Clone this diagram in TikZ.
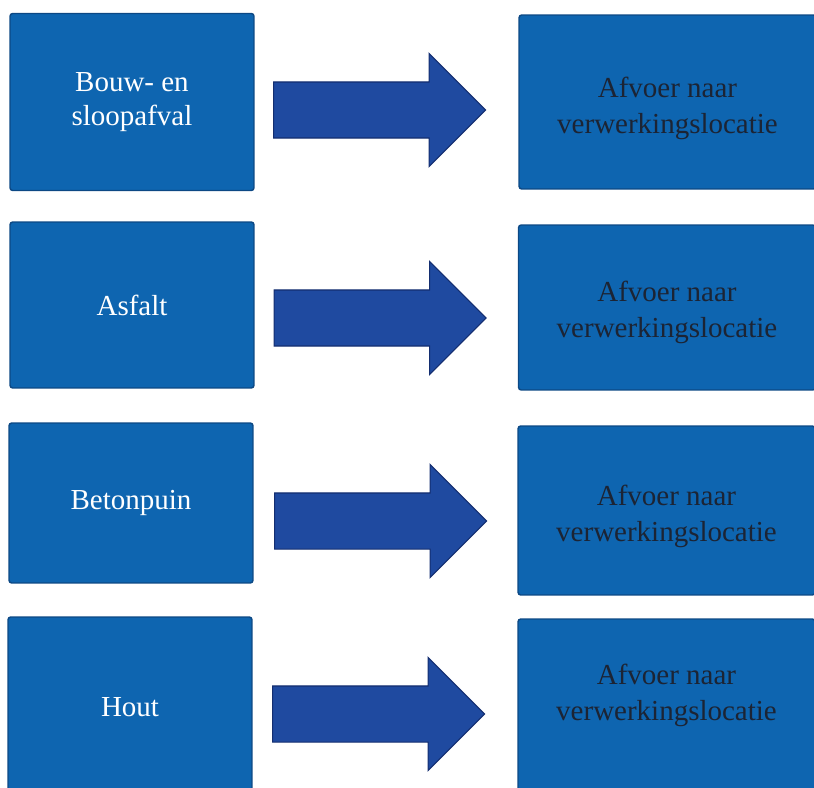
\documentclass[tikz,border=0pt]{standalone}
\usepackage{fontspec}
\setmainfont{Liberation Serif}
\usetikzlibrary{shapes.arrows, calc}

\definecolor{boxblue}{RGB}{14,101,176}
\definecolor{boxedge}{RGB}{12,72,132}
\definecolor{arrowblue}{RGB}{31,74,160}
\definecolor{arrowedge}{RGB}{20,46,112}
\definecolor{darktext}{RGB}{28,36,52}

\tikzset{
    srcbox/.style={rectangle, rounded corners=1.5pt, fill=boxblue, draw=boxedge, line width=0.8pt,
        minimum width=4.88cm, text=white, align=center, font=\fontsize{16.5}{19}\selectfont},
    dstbox/.style={rectangle, rounded corners=1.5pt, fill=boxblue, draw=boxedge, line width=0.8pt,
        minimum width=5.94cm},
    dsttext/.style={text=darktext, align=center, font=\fontsize{16.5}{20.5}\selectfont},
    blockarrow/.style={single arrow, fill=arrowblue, draw=arrowedge, line width=0.6pt,
        inner xsep=0pt, inner ysep=0.55cm, single arrow head extend=0.57cm,
        single arrow tip angle=90, minimum height=4.24cm, anchor=tip}
}

\begin{document}
\begin{tikzpicture}[x=0.02cm, y=-0.02cm]
    \useasboundingbox (0,0) rectangle (814,787);

    % Left column: waste streams
    \node[srcbox, minimum height=3.54cm] (l1) at (132,102) {Bouw- en\\sloopafval};
    \node[srcbox, minimum height=3.32cm] (l2) at (132,305) {Asfalt};
    \node[srcbox, minimum height=3.2cm] (l3) at (131,503) {Betonpuin};
    \node[srcbox, minimum height=3.6cm] (l4) at (130,707) {Hout};

    % Right column: destination
    \node[dstbox, minimum height=3.48cm,
        label={[dsttext, yshift=-0.12cm]center:Afvoer naar\\verwerkingslocatie}] (r1) at (667.5,102) {};
    \node[dstbox, minimum height=3.3cm,
        label={[dsttext, yshift=-0.1cm]center:Afvoer naar\\verwerkingslocatie}] (r2) at (667,307.5) {};
    \node[dstbox, minimum height=3.38cm,
        label={[dsttext, yshift=-0.12cm]center:Afvoer naar\\verwerkingslocatie}] (r3) at (666.5,510.5) {};
    \node[dstbox, minimum height=3.62cm,
        label={[dsttext, yshift=0.29cm]center:Afvoer naar\\verwerkingslocatie}] (r4) at (666.5,709.5) {};

    % Block arrows between the columns
    \node[blockarrow] (a1) at ($(r1.west)+(-32,8)$) {};
    \node[blockarrow] (a2) at ($(r2.west)+(-31,10.5)$) {};
    \node[blockarrow] (a3) at ($(r3.west)+(-30,10.5)$) {};
    \node[blockarrow] (a4) at ($(r4.west)+(-32,4.5)$) {};
\end{tikzpicture}
\end{document}
